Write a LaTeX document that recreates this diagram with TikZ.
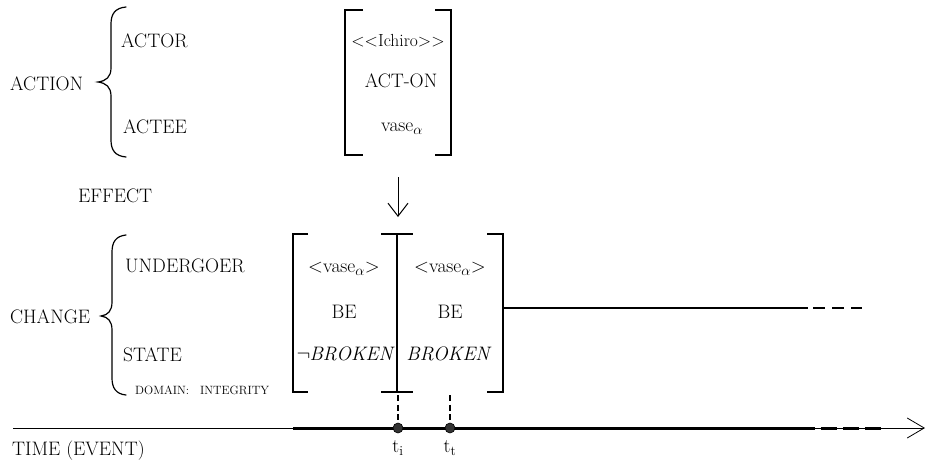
\documentclass[tikz,border=0pt]{standalone}
\usepackage{fontspec}
\usetikzlibrary{arrows.meta}
\begin{document}
\begin{tikzpicture}[x=1pt,y=-1pt,
  txt/.style={inner sep=0pt, font=\fontsize{19.5}{22}\selectfont},
  smalltxt/.style={inner sep=0pt, font=\fontsize{12}{14}\selectfont},
  bracestyle/.style={line width=1.2pt, line cap=round},
  brk/.style={line width=1.5pt},
  guide/.style={line width=1.3pt, dash pattern=on 6pt off 3.5pt},
  dot/.style={circle, fill=black!80, draw=black, line width=0.6pt, inner sep=0pt, minimum size=10pt},
  barb/.style={-{Straight Barb[length=13pt,width=20pt,line width=1pt]}}]
\useasboundingbox (0,0) rectangle (927,464);

% ---------- ACTION block ----------
\node[txt, anchor=base west] (action) at (10,90) {ACTION};
\node[txt, anchor=base west] (actor) at (121,47) {ACTOR};
\node[txt, anchor=base west] (actee) at (123,133) {ACTEE};
\draw[bracestyle] (126,7) .. controls (115,8) and (111,14) .. (111,24) -- (111,68)
  .. controls (111,77) and (106,81) .. (98,82)
  .. controls (106,83) and (111,87) .. (111,96) -- (111,140)
  .. controls (111,150) and (115,156) .. (126,157);

% bracketed action frame
\draw[brk] (363,10) -- (345,10) -- (345,155) -- (363,155);
\draw[brk] (435,10) -- (451,10) -- (451,155) -- (435,155);
\node[txt, anchor=base, font=\fontsize{17.5}{20}\selectfont] (ichiro) at (398,46) {<\kern0pt<Ichiro>\kern0pt>};
\node[txt, anchor=base] (acton) at (401,87) {ACT-ON};
\node[txt, anchor=base] (vase0) at (402,131) {vase$_{\alpha}$};

% ---------- EFFECT ----------
\node[txt, anchor=base west] (effect) at (78,202) {EFFECT};
\coordinate (arrS) at (398,177);
\coordinate (arrE) at (398,217);
\draw[barb, line width=1pt] (arrS) -- (arrE);

% ---------- CHANGE block ----------
\node[txt, anchor=base west] (change) at (10,323) {CHANGE};
\node[txt, anchor=base west] (undergoer) at (125,272) {UNDERGOER};
\node[txt, anchor=base west] (state) at (123,361) {STATE};
\node[smalltxt, anchor=base west] (domain) at (135,394) {DOMAIN:\hspace{11pt}INTEGRITY};
\draw[bracestyle] (126,235) .. controls (116,236) and (112,242) .. (112,252) -- (112,302)
  .. controls (112,311) and (108,315) .. (101,316)
  .. controls (108,317) and (112,321) .. (112,330) -- (112,378)
  .. controls (112,388) and (116,394) .. (126,395);

% first state frame (its right edge is shared with the left edge of the second)
\draw[brk] (308,234) -- (293,234) -- (293,392) -- (308,392);
\draw[brk] (381,234) -- (413,234);
\draw[brk] (381,392) -- (413,392);
\draw[line width=1.9pt] (397,234) -- (397,392);
\node[txt, anchor=base] (und1) at (344,272) {<vase$_{\alpha}$>};
\node[txt, anchor=base] (be1) at (344,318) {BE};
\node[txt, anchor=base east] (st1) at (395,360) {$\neg$\kern-1pt\textit{BROKEN}};

% second state frame
\draw[brk] (487,234) -- (503,234) -- (503,392) -- (487,392);
\node[txt, anchor=base] (und2) at (450,272) {<vase$_{\alpha}$>};
\node[txt, anchor=base] (be2) at (450,318) {BE};
\node[txt, anchor=base] (st2) at (449,360) {\textit{BROKEN}};

% persisting result state
\coordinate (contS) at (503,308);
\coordinate (contM) at (808,308);
\coordinate (contE) at (862,308);
\draw[line width=1.1pt] (contS) -- (contM);
\draw[line width=1.5pt, dash pattern=on 12pt off 7pt] ([xshift=5pt]contM) -- (contE);

% ---------- time axis ----------
\node[txt, anchor=base west] (time) at (12,455) {TIME (EVENT)};
\coordinate (tl0) at (13,428);
\coordinate (tlEnd) at (925,428);
\coordinate (thickS) at (293,428);
\coordinate (thickE) at (815,428);
\coordinate (dashE) at (884,428);
\draw[line width=0.8pt, -{Straight Barb[length=17pt,width=20pt,line width=0.8pt]}] (tl0) -- (tlEnd);
\draw[line width=3pt] (thickS) -- (thickE);
\draw[line width=3pt, dash pattern=on 16pt off 6pt] ([xshift=6pt]thickE) -- (dashE);

\node[dot] (ti) at (398,428) {};
\node[dot] (tt) at (450,428) {};
\coordinate (b1bot) at (398,395);
\coordinate (b2bot) at (450,395);
\draw[guide] (b1bot) -- (ti);
\draw[guide] (b2bot) -- (tt);
\node[txt, anchor=base] (tilab) at (398,452) {t$_{\mathrm{i}}$};
\node[txt, anchor=base] (ttlab) at (450,452) {t$_{\mathrm{t}}$};
\end{tikzpicture}
\end{document}
